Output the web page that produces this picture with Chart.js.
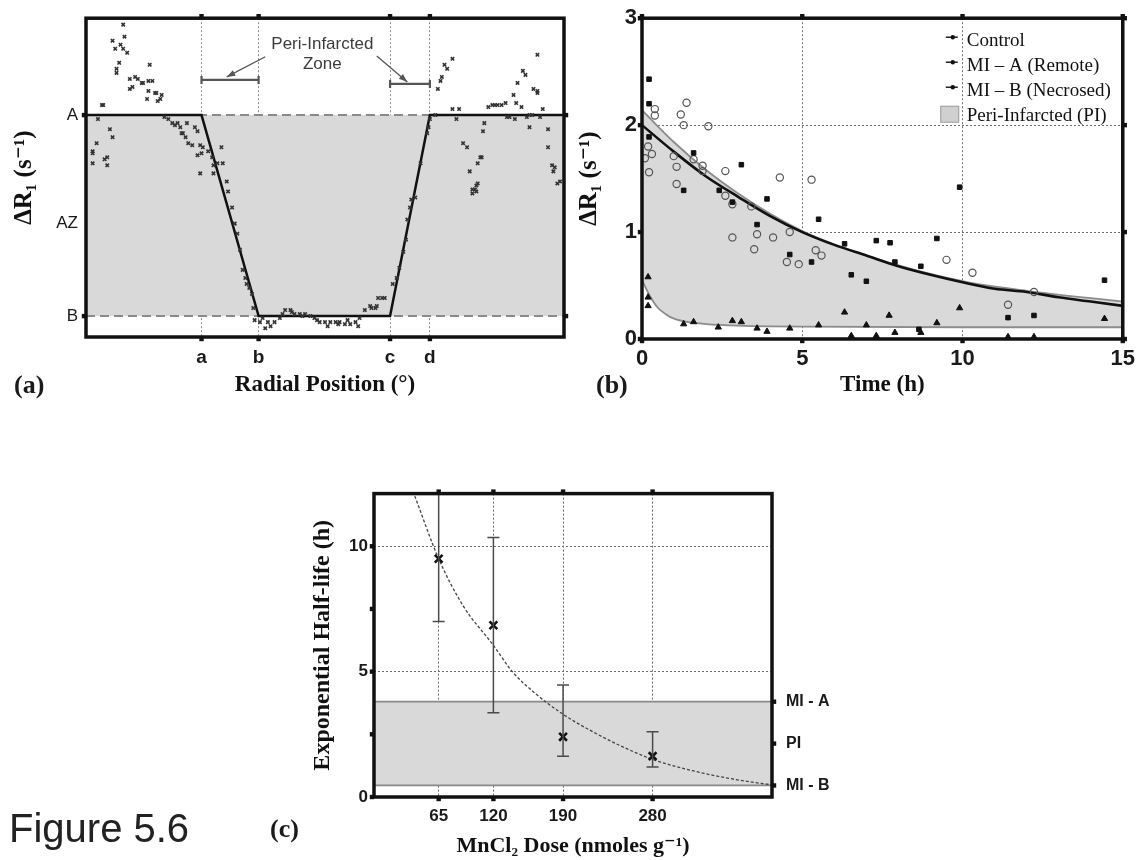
<!DOCTYPE html>
<html>
<head>
<meta charset="utf-8">
<script src="https://cdn.jsdelivr.net/npm/chart.js@4.4.0/dist/chart.umd.min.js"></script>
<style>
body{margin:0;background:#fff;width:1142px;height:860px;position:relative;overflow:hidden}
canvas{position:absolute}
.lab{position:absolute;font:bold 26px "Liberation Serif",serif;color:#1a1a1a}
</style>
</head>
<body>
<canvas id="ca" width="600" height="405" style="left:0;top:0"></canvas>
<canvas id="cb" width="572" height="405" style="left:570px;top:0"></canvas>
<canvas id="cc" width="580" height="390" style="left:280px;top:470px"></canvas>
<div class="lab" style="left:14px;top:370px">(a)</div>
<div class="lab" style="left:596px;top:370px">(b)</div>
<div class="lab" style="left:270px;top:814px">(c)</div>
<div style="position:absolute;left:9px;top:806px;font:40px 'Liberation Sans',Arial,sans-serif;color:#222">Figure 5.6</div>
<script>
// ---------- (a) radial profile ----------
var radTicks = [87, 130, 229, 259];
var radTickLabels = ['a', 'b', 'c', 'd'];
var levelTicks = [1, 0.46, 0];
var levelLabels = ['A', 'AZ', 'B'];
var profileX = [0, 87, 130, 229, 259, 360];
var profileY = [1, 1, 0, 0, 1, 1];
var radialX = [28,29,20,26,22,28,31,25,23,23,48,37,39,33,42,43,47,50,35,33,47,52,53,57,56,54,46,12,13,
  9,18,20,8,5,5,16,14,5,16,59,62,65,67,69,71,73,72,75,77,80,82,76,84,86,88,84,87,92,102,103,106,107,95,96,99,86,96,
  110,112,114,116,118,120,121,123,125,126,127,
  131,133,135,137,139,142,146,148,150,154,155,157,161,163,165,169,172,174,176,180,182,184,188,190,191,195,197,199,203,205,206,210,214,215,218,219,220,223,225,
  231,234,236,239,241,242,244,245,248,252,257,258,259,263,
  276,270,272,268,267,265,276,281,279,303,306,308,310,313,316,340,329,331,325,337,340,340,322,324,328,344,
  317,319,323,332,334,336,342,334,300,299,348,284,287,289,297,298,295,348,351,353,352,357,355,291,293,294,295,291,294];
var radialY = [1.45,1.39,1.37,1.35,1.33,1.33,1.31,1.26,1.23,1.21,1.25,1.19,1.18,1.18,1.16,1.16,1.17,1.17,1.14,1.13,1.12,1.11,1.11,1.10,1.08,1.07,1.08,1.05,1.05,
  0.98,0.93,0.89,0.86,0.82,0.81,0.79,0.78,0.76,0.75,0.99,0.98,0.96,0.95,0.96,0.94,0.91,0.91,0.89,0.86,0.85,0.94,0.96,0.92,0.85,0.84,0.80,0.81,0.82,0.84,0.76,0.67,0.62,0.79,0.75,0.76,0.71,0.71,
  0.54,0.46,0.41,0.33,0.23,0.19,0.16,0.14,0.11,0.04,-0.02,
  -0.03,-0.01,-0.06,-0.03,-0.05,-0.03,-0.01,0.01,0.03,0.03,0.02,0.01,0.01,0,0.01,0,-0.01,-0.02,-0.03,-0.03,-0.05,-0.03,-0.03,-0.04,-0.03,-0.04,-0.02,-0.04,-0.03,-0.05,-0.01,0.03,0.05,0.04,0.04,0.05,0.09,0.09,0.09,
  0.16,0.19,0.24,0.32,0.38,0.48,0.54,0.58,0.59,0.76,0.91,0.94,0.98,1.00,
  1.28,1.25,1.23,1.19,1.17,1.13,1.03,1.03,0.98,1.04,1.05,1.05,1.05,1.05,1.06,1.30,1.22,1.20,1.16,1.13,1.12,1.11,1.10,1.06,1.04,1.03,
  0.99,0.99,0.98,0.99,1.00,1.00,0.99,0.94,0.96,0.92,0.93,0.86,0.84,0.72,0.79,0.79,0.76,0.84,0.75,0.74,0.72,0.67,0.66,0.61,0.63,0.62,0.66,0.63,0.65];

// ---------- (b) ΔR1 vs time ----------
var timeTicks = [0, 5, 10, 15];
var rateTicks = [0, 1, 2, 3];
var legendNames = ['Control', 'MI \u2013 A (Remote)', 'MI \u2013 B (Necrosed)', 'Peri-Infarcted (PI)'];
var ctrlT = [0.40,0.40,1.39,1.21,1.30,2.07,0.19,0.31,0.09,0.22,0.99,1.08,1.61,1.89,1.89,2.60,1.08,2.60,4.30,5.29,2.82,3.41,2.82,3.59,4.09,4.61,3.50,4.52,4.89,5.42,5.60,9.50,10.31,11.42,12.23];
var ctrlR = [2.15,2.09,2.21,2.10,2.00,1.99,1.80,1.73,1.69,1.56,1.71,1.61,1.68,1.62,1.57,1.57,1.45,1.34,1.51,1.49,1.26,1.24,0.95,0.98,0.95,1.00,0.84,0.72,0.70,0.83,0.78,0.74,0.62,0.32,0.44];
var remoteT = [0.22,0.22,0.22,1.61,3.10,1.30,2.41,2.82,3.90,3.59,4.61,5.29,5.51,6.32,6.53,7.00,7.31,9.91,7.74,9.20,7.89,8.70,11.42,12.23,14.43,8.64];
var remoteR = [2.43,2.20,1.89,1.74,1.63,1.39,1.39,1.28,1.31,1.07,0.79,0.72,1.12,0.89,0.60,0.54,0.92,1.42,0.90,0.94,0.72,0.68,0.20,0.22,0.55,0.09];
var necroT = [0.19,0.19,0.19,1.30,1.61,2.38,2.82,3.10,3.59,3.90,4.61,5.51,6.32,6.53,7.00,7.31,7.71,7.89,9.20,9.91,8.70,11.42,12.23,14.43];
var necroR = [0.58,0.39,0.31,0.14,0.16,0.11,0.17,0.16,0.10,0.07,0.10,0.13,0.25,0.03,0.13,0.03,0.22,0.06,0.15,0.29,0.06,0.02,0.02,0.19];
var ctrlFitT = [0,1,2,3,4,5,6,7,8,9,10,11,12,13,14,15];
var ctrlFitR = [2.0,1.75,1.52,1.33,1.15,1.0,0.88,0.78,0.68,0.6,0.53,0.47,0.44,0.39,0.35,0.31];
var piUpperT = [0,1,2,3,4,5,7,10,12,15];
var piUpperR = [2.14,1.84,1.58,1.36,1.17,1.01,0.78,0.54,0.45,0.35];
var piLowerT = [0,0.25,0.5,0.75,1,1.5,2,3,4,5,10,15];
var piLowerR = [0.55,0.4,0.29,0.23,0.19,0.155,0.14,0.125,0.118,0.115,0.11,0.11];

// ---------- (c) half-life vs dose ----------
var doses = [65, 120, 190, 280];
var halfLife = [9.5, 6.85, 2.4, 1.63];
var halfLifeLow = [7.0, 3.36, 1.63, 1.2];
var halfLifeHigh = [12.1, 10.35, 4.47, 2.6];
var fitDose = [41, 65, 90, 120, 139, 160, 190, 220, 250, 280, 320, 360, 400];
var fitHalfLife = [12.0, 9.5, 7.6, 6.05, 5.0, 4.2, 3.3, 2.6, 2.0, 1.5, 1.05, 0.72, 0.48];
var lifeTicks = [0, 2.5, 5, 7.5, 10];
var lifeTickLabels = ['0', '', '5', '', '10'];
var bandLevels = [3.8, 2.13, 0.46];
var bandLabels = ['MI - A', 'PI', 'MI - B'];

function pts(xs, ys) { return xs.map(function(x, i) { return {x: x, y: ys[i]}; }); }
function fixedSize(px) { return function(s) { if (s.isHorizontal()) s.height = px; else s.width = px; }; }
function setTicks(vals) { return function(s) { s.ticks = vals.map(function(v) { return {value: v}; }); }; }

Chart.defaults.font.family = '"Liberation Sans", Arial, sans-serif';
Chart.defaults.color = '#1a1a1a';
Chart.defaults.animation = false;
Chart.defaults.responsive = false;
Chart.defaults.events = [];
Chart.defaults.plugins.legend.display = false;
Chart.defaults.plugins.tooltip.enabled = false;

var INK = '#111';
var DOT = '#6e6e6e';
var FILL = '#d9d9d9';
var serifTitle = function(size) { return {family: '"Liberation Serif", "DejaVu Serif", serif', size: size, weight: 'bold'}; };
var boldSans = function(size) { return {family: '"Liberation Sans", Arial, sans-serif', size: size, weight: 'bold'}; };

// frame + small tick knobs on all four sides
var frameBox = {
  id: 'frameBox',
  afterDraw: function(chart, args, o) {
    var ctx = chart.ctx, a = chart.chartArea, sx = chart.scales.x, sy = chart.scales.y;
    ctx.save();
    ctx.fillStyle = INK;
    var put = function(x, y) { ctx.fillRect(x - 2.2, y - 2.2, 4.4, 4.4); };
    (o.top || []).forEach(function(v) { put(sx.getPixelForValue(v), a.top - 2); });
    (o.bottom || []).forEach(function(v) { put(sx.getPixelForValue(v), a.bottom + 2); });
    (o.left || []).forEach(function(v) { put(a.left - 2, sy.getPixelForValue(v)); });
    (o.right || []).forEach(function(v) { put(a.right + 2, sy.getPixelForValue(v)); });
    ctx.strokeStyle = INK;
    ctx.lineWidth = 3.5;
    ctx.strokeRect(a.left, a.top, a.right - a.left, a.bottom - a.top);
    ctx.restore();
  }
};
Chart.register(frameBox);

function arrow(ctx, x1, y1, x2, y2) {
  var ang = Math.atan2(y2 - y1, x2 - x1);
  ctx.beginPath(); ctx.moveTo(x1, y1); ctx.lineTo(x2, y2); ctx.stroke();
  ctx.beginPath();
  ctx.moveTo(x2, y2);
  ctx.lineTo(x2 - 9 * Math.cos(ang - 0.35), y2 - 9 * Math.sin(ang - 0.35));
  ctx.lineTo(x2 - 9 * Math.cos(ang + 0.35), y2 - 9 * Math.sin(ang + 0.35));
  ctx.closePath(); ctx.fill();
}

// "Peri-Infarcted Zone" note over panel (a)
var zoneNote = {
  id: 'zoneNote',
  afterDatasetsDraw: function(chart) {
    var ctx = chart.ctx, x = chart.scales.x, y = chart.scales.y;
    ctx.save();
    ctx.fillStyle = '#3c3c3c';
    ctx.font = '17px "Liberation Sans", Arial, sans-serif';
    ctx.textAlign = 'center';
    ctx.textBaseline = 'middle';
    ctx.fillText('Peri-Infarcted', x.getPixelForValue(178), y.getPixelForValue(1.353));
    ctx.fillText('Zone', x.getPixelForValue(178), y.getPixelForValue(1.254));
    ctx.strokeStyle = '#555';
    ctx.lineWidth = 2.2;
    [[radTicks[0], radTicks[1], 1.175], [radTicks[2], radTicks[3], 1.155]].forEach(function(b) {
      var x1 = x.getPixelForValue(b[0]), x2 = x.getPixelForValue(b[1]), yy = y.getPixelForValue(b[2]);
      ctx.beginPath();
      ctx.moveTo(x1, yy); ctx.lineTo(x2, yy);
      ctx.moveTo(x1, yy - 4); ctx.lineTo(x1, yy + 4);
      ctx.moveTo(x2, yy - 4); ctx.lineTo(x2, yy + 4);
      ctx.stroke();
    });
    ctx.fillStyle = '#555';
    ctx.lineWidth = 1.3;
    arrow(ctx, x.getPixelForValue(135), y.getPixelForValue(1.29), x.getPixelForValue(106), y.getPixelForValue(1.19));
    arrow(ctx, x.getPixelForValue(219), y.getPixelForValue(1.294), x.getPixelForValue(242), y.getPixelForValue(1.165));
    ctx.restore();
  }
};

// legend of panel (b), drawn inside the plot
var timeLegend = {
  id: 'timeLegend',
  afterDraw: function(chart) {
    var ctx = chart.ctx, a = chart.chartArea;
    var x0 = a.right - 170, y0 = a.top + 23;
    ctx.save();
    ctx.font = '19px "Liberation Serif", serif';
    ctx.textBaseline = 'middle';
    legendNames.forEach(function(name, i) {
      var yy = y0 + i * 25;
      if (i < 3) {
        ctx.strokeStyle = INK; ctx.lineWidth = 1.4;
        ctx.beginPath(); ctx.moveTo(x0 - 7, yy - 4); ctx.lineTo(x0 + 5, yy - 4); ctx.stroke();
        ctx.fillStyle = INK;
        ctx.beginPath(); ctx.arc(x0, yy - 4, 2.2, 0, Math.PI * 2); ctx.fill();
      } else {
        ctx.fillStyle = '#d0d0d0'; ctx.strokeStyle = '#999'; ctx.lineWidth = 1;
        ctx.fillRect(x0 - 12, yy - 10, 18, 16); ctx.strokeRect(x0 - 12, yy - 10, 18, 16);
      }
      ctx.fillStyle = INK;
      ctx.fillText(name, x0 + 14, yy);
    });
    ctx.restore();
  }
};

// error bars of panel (c)
var errorBars = {
  id: 'errorBars',
  afterDatasetsDraw: function(chart) {
    var ctx = chart.ctx, a = chart.chartArea, x = chart.scales.x, y = chart.scales.y;
    ctx.save();
    ctx.beginPath(); ctx.rect(a.left, a.top, a.right - a.left, a.bottom - a.top); ctx.clip();
    ctx.strokeStyle = '#4a4a4a';
    ctx.lineWidth = 1.5;
    doses.forEach(function(d, i) {
      var px = x.getPixelForValue(d);
      var lo = y.getPixelForValue(halfLifeLow[i]), hi = y.getPixelForValue(halfLifeHigh[i]);
      ctx.beginPath();
      ctx.moveTo(px, lo); ctx.lineTo(px, hi);
      ctx.moveTo(px - 6, lo); ctx.lineTo(px + 6, lo);
      ctx.moveTo(px - 6, hi); ctx.lineTo(px + 6, hi);
      ctx.stroke();
    });
    ctx.restore();
  }
};

// ---------------- chart (a) ----------------
new Chart(document.getElementById('ca'), {
  type: 'scatter',
  data: {
    datasets: [
      {data: pts(radialX, radialY), pointStyle: 'crossRot', pointRadius: 2.4, borderWidth: 1.6, borderColor: '#333', backgroundColor: '#333'},
      {type: 'line', data: pts(profileX, profileY), borderColor: INK, borderWidth: 2.5, pointRadius: 0, tension: 0, fill: false},
      {type: 'line', data: pts([profileX[0], profileX[5]], [levelTicks[2], levelTicks[2]]), borderColor: '#8a8a8a', borderWidth: 2, borderDash: [9, 5], pointRadius: 0, fill: false},
      {type: 'line', data: pts([profileX[0], profileX[5]], [levelTicks[0], levelTicks[0]]), borderColor: '#8a8a8a', borderWidth: 2, borderDash: [9, 5], pointRadius: 0,
        fill: {value: levelTicks[2]}, backgroundColor: FILL}
    ]
  },
  options: {
    layout: {padding: {top: 17, right: 36, left: 0, bottom: 0}},
    scales: {
      x: {
        type: 'linear', min: 0, max: 360, z: 1,
        afterBuildTicks: setTicks(radTicks), afterFit: fixedSize(68),
        ticks: {callback: function(v, i) { return radTickLabels[i]; }, font: boldSans(19), padding: 9, maxRotation: 0, autoSkip: false},
        grid: {color: '#8a8a8a', lineWidth: 1, drawTicks: false},
        border: {display: false, dash: [2, 2]},
        title: {display: true, text: 'Radial Position (\u00b0)', font: serifTitle(23), color: INK, padding: {top: 0, bottom: 6}}
      },
      y: {
        type: 'linear', min: -0.104, max: 1.482, z: 1,
        afterBuildTicks: setTicks(levelTicks), afterFit: fixedSize(86),
        ticks: {callback: function(v, i) { return levelLabels[i]; }, font: {size: 17}, padding: 8, autoSkip: false},
        grid: {display: false, drawTicks: false},
        border: {display: false},
        title: {display: true, text: '\u0394R\u2081 (s\u207b\u00b9)', font: serifTitle(25), color: INK, padding: {top: 10, bottom: 0}}
      }
    },
    plugins: {frameBox: {top: radTicks, bottom: radTicks, left: [levelTicks[0], levelTicks[2]], right: [levelTicks[0], levelTicks[2]]}}
  },
  plugins: [zoneNote]
});

// ---------------- chart (b) ----------------
new Chart(document.getElementById('cb'), {
  type: 'scatter',
  data: {
    datasets: [
      {label: legendNames[2], data: pts(necroT, necroR), pointStyle: 'triangle', pointRadius: 3.6, borderWidth: 1, borderColor: INK, backgroundColor: INK},
      {label: legendNames[1], data: pts(remoteT, remoteR), pointStyle: 'rect', pointRadius: 3.2, borderWidth: 1, borderColor: INK, backgroundColor: INK},
      {label: legendNames[0], data: pts(ctrlT, ctrlR), pointStyle: 'circle', pointRadius: 3.6, borderWidth: 1.2, borderColor: '#555', backgroundColor: 'rgba(255,255,255,0)'},
      {type: 'line', data: pts(ctrlFitT, ctrlFitR), borderColor: INK, borderWidth: 2.6, pointRadius: 0, cubicInterpolationMode: 'monotone', fill: false},
      {type: 'line', data: pts(piLowerT, piLowerR), borderColor: '#8c8c8c', borderWidth: 1.8, pointRadius: 0, cubicInterpolationMode: 'monotone', fill: false},
      {type: 'line', label: legendNames[3], data: pts(piUpperT, piUpperR), borderColor: '#8c8c8c', borderWidth: 1.8, pointRadius: 0, cubicInterpolationMode: 'monotone',
        fill: '-1', backgroundColor: FILL}
    ]
  },
  options: {
    layout: {padding: {top: 15, right: 15, left: 0, bottom: 0}},
    scales: {
      x: {
        type: 'linear', min: 0, max: 15, z: 1,
        afterBuildTicks: setTicks(timeTicks), afterFit: fixedSize(66),
        ticks: {font: boldSans(22), padding: 7, maxRotation: 0, autoSkip: false},
        grid: {color: DOT, lineWidth: 1, drawTicks: false},
        border: {display: false, dash: [2, 2]},
        title: {display: true, text: 'Time (h)', font: serifTitle(23), color: INK, padding: {top: 0, bottom: 6}}
      },
      y: {
        type: 'linear', min: 0, max: 3, z: 1,
        afterBuildTicks: setTicks(rateTicks), afterFit: fixedSize(72),
        ticks: {font: boldSans(22), padding: 5, autoSkip: false},
        grid: {color: DOT, lineWidth: 1, drawTicks: false},
        border: {display: false, dash: [2, 2]},
        title: {display: true, text: '\u0394R\u2081 (s\u207b\u00b9)', font: serifTitle(25), color: INK, padding: {top: 5, bottom: 0}}
      }
    },
    plugins: {frameBox: {top: timeTicks, bottom: timeTicks, left: rateTicks, right: rateTicks}}
  },
  plugins: [timeLegend]
});

// ---------------- chart (c) ----------------
new Chart(document.getElementById('cc'), {
  type: 'scatter',
  data: {
    datasets: [
      {data: pts(doses, halfLife), pointStyle: 'crossRot', pointRadius: 5.5, borderWidth: 2.6, borderColor: INK},
      {type: 'line', data: pts(fitDose, fitHalfLife), borderColor: '#444', borderWidth: 1.3, borderDash: [3, 2], pointRadius: 0, cubicInterpolationMode: 'monotone', fill: false},
      {type: 'line', data: pts([0, 400], [bandLevels[2], bandLevels[2]]), borderColor: '#8a8a8a', borderWidth: 1.8, pointRadius: 0, fill: false},
      {type: 'line', data: pts([0, 400], [bandLevels[0], bandLevels[0]]), borderColor: '#8a8a8a', borderWidth: 1.8, pointRadius: 0, fill: '-1', backgroundColor: FILL}
    ]
  },
  options: {
    layout: {padding: {top: 20, right: 16, left: 0, bottom: 0}},
    scales: {
      x: {
        type: 'linear', min: 0, max: 400, z: 1,
        afterBuildTicks: setTicks(doses), afterFit: fixedSize(63),
        ticks: {font: boldSans(17), padding: 9, maxRotation: 0, autoSkip: false},
        grid: {color: DOT, lineWidth: 1, drawTicks: false},
        border: {display: false, dash: [2, 2]},
        title: {display: true, text: 'MnCl\u2082 Dose (nmoles g\u207b\u00b9)', font: serifTitle(22), color: INK, padding: {top: 0, bottom: 0}}
      },
      y: {
        type: 'linear', min: 0, max: 12.1, z: 1,
        afterBuildTicks: setTicks(lifeTicks), afterFit: fixedSize(94),
        ticks: {callback: function(v, i) { return lifeTickLabels[i]; }, font: boldSans(17), padding: 6, autoSkip: false},
        grid: {color: function(c) { return (c.tick && (c.tick.value === 5 || c.tick.value === 10)) ? DOT : 'rgba(0,0,0,0)'; }, lineWidth: 1, drawTicks: false},
        border: {display: false, dash: [2, 2]},
        title: {display: true, text: 'Exponential Half-life (h)', font: serifTitle(24), color: INK, padding: {top: 28, bottom: 0}}
      },
      y2: {
        type: 'linear', position: 'right', min: 0, max: 12.1,
        afterBuildTicks: setTicks(bandLevels), afterFit: fixedSize(72),
        ticks: {callback: function(v, i) { return bandLabels[i]; }, font: boldSans(16), padding: 14, autoSkip: false},
        grid: {display: false, drawTicks: false},
        border: {display: false}
      }
    },
    plugins: {frameBox: {top: doses, bottom: doses, left: lifeTicks, right: bandLevels}}
  },
  plugins: [errorBars]
});
</script>
</body>
</html>
